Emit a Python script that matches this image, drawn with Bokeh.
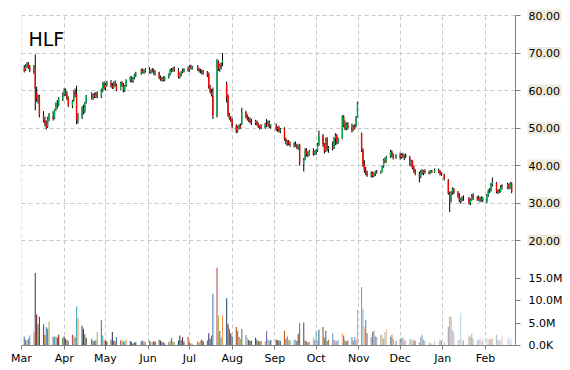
import numpy as np
import pandas as pd
from bokeh.plotting import figure
from bokeh.models import (Range1d, FixedTicker, MonthsTicker, DatetimeTickFormatter,
                          NumeralTickFormatter, Label, ColumnDataSource, Grid, LinearAxis,
                          DatetimeAxis)
from bokeh.embed import file_html
from bokeh.resources import INLINE

ticker_symbol = "HLF"
holidays = ["2014-04-18", "2014-05-26", "2014-07-04", "2014-09-01", "2014-11-27",
            "2014-12-25", "2015-01-01", "2015-01-19", "2015-02-16"]

opens = [
    66.0, 65.5, 66.6, 67.0, 66.3, 65.5, 66.2, 59.5, 58.0, 58.5, 53.5, 52.0, 51.0, 50.4, 52.5, 53.0, 52.6, 55.0, 56.0, 56.0, 57.8,
    58.8, 60.0, 59.0, 58.0, 56.0, 57.5, 59.6, 59.0, 52.0, 53.0, 55.2, 54.5, 57.0, 58.4, 58.0, 58.8, 58.2, 59.2, 58.4, 60.0, 61.6,
    60.8, 61.6, 62.0, 61.2, 60.8, 62.0, 61.4, 60.4, 62.0, 61.3, 60.0, 61.2, 62.8, 63.4, 62.5, 63.4, 64.2, 64.6, 65.4, 65.0, 65.2,
    65.6, 65.0, 65.4, 65.2, 64.6, 64.8, 63.4, 63.0, 63.2, 62.8, 63.6, 64.4, 65.5, 65.2, 65.8, 65.4, 63.6, 64.4, 65.0, 65.2, 65.8,
    65.4, 66.4, 66.0, 66.3, 65.6, 65.2, 65.4, 64.8, 65.0, 64.4, 61.0, 59.6, 58.6, 53.2, 67.6, 65.8, 66.8, 67.5, 61.8, 58.6, 53.4, 52.6,
    52.0, 50.4, 49.2, 50.2, 50.6, 51.0, 54.2, 53.0, 52.4, 52.0, 51.6, 51.4, 51.8, 51.0, 50.2, 50.6, 50.0, 51.0, 50.6, 51.6, 50.4,
    50.6, 49.8, 50.0, 49.2, 49.8, 47.0, 46.0, 46.4, 45.8, 45.4, 45.8, 45.2, 44.8, 45.6, 40.4, 41.6, 44.0, 43.0, 42.8, 43.8, 43.0,
    43.6, 44.0, 45.6, 48.0, 45.6, 43.8, 47.0, 44.4, 44.8, 44.6, 47.2, 48.0, 46.2, 47.2, 53.0, 50.8, 49.8, 51.0, 50.0, 49.4, 50.4, 50.4, 53.0,
    48.4, 44.2, 40.2, 38.8, 38.0, 37.4, 38.0, 37.2, 37.8, 38.4, 38.2, 38.4, 39.8, 41.4, 41.0, 42.4, 43.6, 42.6, 42.0,
    42.8, 42.2, 42.8, 42.4, 42.6, 42.2, 40.4, 41.2, 39.4, 38.4, 37.8, 37.0, 38.4, 38.0, 38.6, 38.2, 38.0, 38.6, 38.2, 38.8, 38.4, 37.6,
    37.6, 36.0, 32.6, 30.6, 32.8, 33.8, 32.8, 31.8, 30.6, 31.0, 31.4, 31.2, 30.0, 30.8, 32.0, 31.2, 31.4, 30.8, 31.2, 30.8,
    30.4, 32.0, 33.2, 33.4, 35.0, 35.4, 33.0, 33.2, 33.0, 34.4, 34.2, 35.0, 34.0, 35.2,
]
highs = [
    66.8, 67.0, 67.5, 67.6, 66.8, 66.8, 69.6, 61.0, 59.0, 58.8, 54.5, 53.0, 52.0, 53.0, 54.0, 54.5, 55.0, 56.8, 57.5, 58.2, 59.5,
    60.6, 60.5, 59.8, 58.4, 57.5, 60.0, 60.5, 61.3, 54.0, 55.8, 56.2, 57.0, 58.8, 59.5, 59.2, 59.4, 59.6, 59.8, 60.5, 62.2, 62.5,
    62.0, 62.6, 62.8, 62.0, 62.4, 62.7, 61.8, 62.3, 62.5, 62.0, 61.5, 63.0, 63.8, 63.8, 63.6, 64.5, 65.0, 65.8, 65.9, 65.6, 66.0,
    66.2, 65.6, 66.0, 65.8, 65.4, 65.0, 64.0, 63.6, 63.8, 63.8, 64.6, 65.8, 66.0, 66.2, 66.4, 66.0, 64.8, 65.2, 65.8, 66.0, 66.4,
    66.8, 66.9, 66.6, 66.8, 66.0, 65.8, 65.6, 65.4, 65.2, 64.8, 61.5, 60.4, 60.8, 68.4, 68.0, 67.2, 67.5, 70.0, 62.4, 59.0, 54.0, 53.2,
    52.6, 51.0, 50.6, 51.0, 51.2, 55.4, 54.6, 53.6, 53.0, 52.8, 52.4, 52.2, 52.0, 51.4, 50.8, 51.0, 51.4, 52.4, 52.0, 52.0, 51.0,
    51.2, 50.4, 50.6, 50.0, 50.2, 47.4, 46.8, 46.8, 46.4, 46.2, 46.4, 45.8, 45.6, 45.8, 42.0, 44.6, 44.6, 43.8, 44.2, 44.6, 44.0,
    44.4, 46.0, 49.3, 48.4, 46.0, 47.4, 47.6, 45.2, 46.4, 47.6, 48.6, 48.4, 47.4, 53.4, 53.4, 52.0, 51.4, 51.6, 51.2, 50.8, 51.0, 53.2, 57.0,
    48.8, 44.6, 41.4, 39.6, 38.6, 38.4, 38.4, 38.2, 38.6, 38.8, 38.6, 40.0, 41.8, 42.2, 42.6, 44.2, 44.0, 43.2, 43.0,
    43.4, 43.2, 43.4, 43.0, 43.2, 42.6, 41.6, 41.4, 40.0, 39.0, 38.4, 38.8, 39.0, 38.8, 39.0, 38.6, 38.8, 38.8, 39.2, 39.2, 38.8, 38.2,
    37.8, 36.4, 33.0, 33.2, 34.2, 34.0, 33.2, 32.6, 31.4, 31.8, 32.0, 31.6, 31.2, 32.4, 32.6, 31.8, 32.0, 31.6, 31.8, 31.6,
    32.4, 33.6, 34.0, 35.4, 36.8, 35.6, 33.6, 33.8, 34.8, 35.0, 35.4, 35.2, 35.6, 35.5,
]
lows = [
    64.8, 65.2, 66.0, 65.8, 64.9, 64.5, 54.7, 57.0, 56.5, 52.8, 51.5, 50.5, 49.6, 50.0, 51.8, 52.0, 52.4, 54.5, 55.2, 55.8, 57.2,
    58.5, 58.6, 57.5, 55.6, 55.3, 57.0, 58.2, 51.0, 51.2, 52.4, 53.6, 54.0, 56.5, 57.6, 57.5, 58.0, 58.0, 57.9, 58.0, 59.5, 60.2,
    60.0, 61.0, 60.8, 60.4, 60.5, 61.0, 59.8, 60.2, 61.0, 59.5, 59.6, 61.0, 62.2, 62.2, 62.0, 63.0, 63.6, 64.2, 64.6, 64.4, 64.8,
    64.6, 64.4, 64.8, 64.2, 64.0, 63.0, 62.6, 62.4, 62.4, 62.5, 63.2, 64.0, 64.8, 65.0, 65.0, 63.2, 63.2, 63.8, 64.6, 64.8, 65.0,
    65.0, 65.6, 65.6, 65.2, 64.8, 64.6, 64.2, 64.3, 63.6, 60.5, 59.2, 58.4, 52.4, 52.8, 65.2, 65.0, 65.6, 66.5, 56.8, 53.0, 52.2, 51.6,
    50.0, 48.6, 48.8, 49.6, 49.8, 50.8, 52.6, 52.0, 51.6, 51.2, 50.8, 50.8, 50.6, 50.0, 49.6, 49.8, 49.8, 50.2, 50.4, 50.0, 49.8,
    49.2, 49.0, 48.8, 48.6, 46.6, 45.6, 45.2, 45.4, 45.0, 44.8, 45.0, 44.4, 44.2, 40.0, 38.4, 41.4, 42.4, 42.2, 42.6, 42.6, 42.8,
    42.8, 43.6, 45.2, 45.0, 43.2, 43.6, 43.8, 43.4, 44.0, 44.4, 45.4, 45.6, 45.8, 47.0, 50.2, 49.4, 49.4, 49.6, 48.8, 49.2, 49.6, 50.2, 52.8,
    43.6, 39.6, 38.0, 37.4, 37.0, 36.8, 36.8, 36.9, 37.2, 37.8, 37.8, 38.2, 39.4, 40.6, 40.8, 42.0, 42.2, 41.6, 41.8,
    41.6, 41.8, 42.0, 41.4, 42.0, 40.0, 39.6, 39.0, 38.0, 37.4, 35.5, 36.6, 37.6, 37.4, 37.8, 37.6, 37.8, 38.0, 38.0, 38.0, 37.4, 37.2,
    36.0, 32.2, 27.6, 30.2, 32.2, 32.4, 31.4, 30.2, 29.8, 30.4, 30.6, 29.6, 29.4, 30.6, 30.8, 30.6, 30.6, 30.2, 30.4, 30.2,
    30.0, 31.6, 32.6, 33.0, 34.4, 32.6, 32.4, 32.6, 32.8, 33.6, 33.8, 33.6, 33.8, 32.6,
]
closes = [
    65.2, 66.6, 67.2, 66.2, 65.4, 66.0, 60.5, 57.8, 58.5, 53.4, 52.0, 51.2, 50.2, 52.5, 53.5, 52.5, 54.8, 56.2, 55.8, 57.8, 58.6,
    60.2, 59.0, 58.0, 56.0, 57.2, 59.6, 58.8, 52.0, 53.0, 55.4, 54.2, 56.8, 58.4, 58.0, 58.8, 58.3, 59.4, 58.4, 60.0, 61.8, 60.6,
    61.6, 62.2, 61.2, 60.8, 62.0, 61.4, 60.2, 62.0, 61.3, 60.0, 61.2, 62.8, 63.5, 62.5, 63.4, 64.2, 64.6, 65.4, 65.0, 65.2, 65.6,
    65.0, 65.4, 65.2, 64.6, 65.0, 63.4, 63.0, 63.2, 62.8, 63.6, 64.4, 65.6, 65.2, 65.8, 65.4, 63.6, 64.4, 65.0, 65.2, 65.8, 65.4,
    66.4, 66.0, 66.3, 65.6, 65.2, 65.4, 64.8, 65.0, 64.2, 61.0, 59.6, 58.8, 53.4, 68.0, 65.8, 66.8, 66.2, 68.0, 58.0, 53.4, 52.6, 52.0,
    50.4, 49.2, 50.2, 50.6, 50.0, 54.2, 53.0, 52.4, 52.0, 51.6, 51.4, 51.8, 51.0, 50.2, 50.6, 50.0, 51.0, 50.6, 51.6, 50.4, 50.6,
    49.8, 50.0, 49.2, 49.6, 47.0, 46.0, 46.4, 45.8, 45.4, 45.8, 45.2, 44.8, 45.4, 40.4, 41.6, 44.0, 43.0, 42.8, 43.8, 43.0, 43.6,
    44.0, 45.6, 48.0, 45.6, 43.8, 47.0, 44.4, 44.8, 44.6, 47.2, 48.0, 46.2, 47.0, 53.0, 50.8, 49.8, 51.0, 50.0, 49.4, 50.4, 49.8, 52.8, 56.6,
    44.2, 40.2, 38.8, 38.0, 37.4, 38.0, 37.2, 37.8, 38.4, 38.2, 38.4, 39.8, 41.4, 41.0, 42.4, 43.6, 42.6, 42.0, 42.8,
    42.2, 42.8, 42.4, 42.6, 42.2, 40.4, 41.2, 39.4, 38.4, 37.8, 37.0, 38.4, 38.0, 38.6, 38.2, 38.0, 38.6, 38.2, 38.8, 38.4, 37.6, 37.7,
    36.4, 32.6, 30.4, 32.8, 33.8, 32.8, 31.8, 30.6, 31.0, 31.4, 31.2, 30.0, 30.8, 32.0, 31.2, 31.4, 30.8, 31.2, 30.8, 31.4,
    32.0, 33.2, 33.4, 35.0, 35.6, 33.0, 33.2, 33.0, 34.4, 34.2, 35.0, 34.0, 35.2, 33.0,
]
volumes_m = [
    2.0, 1.3, 1.1, 1.5, 2.2, 3.1, 16.1, 6.9, 4.7, 6.4, 4.7, 2.4, 4.1, 3.7, 5.3, 2.0, 1.9, 2.1, 1.7, 2.4, 1.7,
    2.0, 1.5, 1.2, 1.0, 2.4, 2.2, 1.8, 8.7, 6.1, 4.4, 3.7, 2.5, 1.7, 1.5, 1.0, 1.0, 1.2, 3.0, 5.6, 2.2, 1.3,
    1.1, 0.9, 1.3, 3.0, 1.1, 1.0, 1.9, 1.1, 1.3, 0.9, 1.0, 1.3, 1.0, 0.7, 0.4, 0.6, 0.8, 1.0, 1.1, 0.8, 0.9,
    1.1, 0.8, 0.7, 0.9, 0.9, 1.3, 1.1, 0.8, 0.7, 0.5, 0.7, 1.1, 1.7, 0.9, 0.8, 1.1, 2.2, 1.3, 1.9, 0.9, 1.9,
    0.7, 0.5, 0.4, 0.9, 0.7, 1.1, 1.3, 0.9, 1.1, 2.7, 1.5, 2.2, 11.5, 17.3, 6.7, 3.2, 1.7, 6.7, 10.5, 4.7, 3.7, 2.7,
    2.0, 4.1, 3.3, 1.9, 1.5, 3.7, 2.4, 1.7, 1.2, 1.0, 1.1, 1.7, 1.3, 1.0, 0.9, 1.0, 1.0, 3.2, 1.4, 1.0, 1.2,
    1.3, 1.2, 1.1, 1.0, 3.3, 1.5, 2.0, 1.3, 1.1, 1.3, 1.3, 1.0, 2.6, 5.0, 5.1, 1.1, 0.9, 0.7, 0.8, 1.7, 1.1,
    3.3, 1.1, 3.5, 4.1, 1.7, 3.3, 1.0, 1.3, 2.7, 1.3, 1.1, 1.0, 1.3, 2.7, 2.2, 1.1, 0.9, 1.1, 1.9, 1.1, 1.9, 1.3, 8.1,
    13.0, 8.1, 4.1, 5.7, 2.7, 1.9, 3.0, 3.3, 2.0, 1.9, 2.4, 2.2, 1.5, 3.0, 3.7, 1.9, 2.4, 1.5, 1.0,
    1.5, 1.6, 1.9, 1.2, 1.0, 1.3, 1.5, 1.1, 1.3, 1.0, 0.7, 1.9, 2.4, 1.3, 1.1, 0.5, 0.7, 0.4, 1.1, 0.7, 1.3, 1.0,
    0.7, 4.1, 6.4, 6.4, 3.5, 3.0, 1.1, 1.3, 7.2, 1.3, 1.1, 2.2, 1.9, 2.6, 1.5, 1.1, 1.3, 1.5, 1.0, 1.4,
    1.7, 1.5, 1.3, 1.5, 1.6, 2.4, 1.3, 1.1, 1.3, 2.0, 1.4, 2.0, 1.2, 1.7,
]
price_ticks = [20, 30, 40, 50, 60, 70, 80]
volume_ticks = [0, 5, 10, 15]
volume_tick_labels = ["0.0K", "5.0M", "10.0M", "15.0M"]
volume_palette = ["#4f81bd", "#c0504d", "#9bbb59", "#8064a2", "#4bacc6", "#f79646",
                  "#2c4d75", "#772c2a", "#5f7530", "#4d3b62", "#276a7c", "#b65708"]

dates = pd.bdate_range("2014-03-03", "2015-02-20", freq="C", holidays=holidays)
n = len(dates)
assert n == len(opens) == len(highs) == len(lows) == len(closes) == len(volumes_m)

o = np.array(opens)
c = np.array(closes)
fade_start = 120
valpha = np.ones(n)
valpha[fade_start:] = np.linspace(1.0, 0.3, n - fade_start)
src = ColumnDataSource(dict(
    date=dates,
    high=np.array(highs), low=np.array(lows),
    top=np.maximum(o, c), bottom=np.minimum(o, c),
    color=np.where(c >= o, "#00b050", "#ff0000"),
    vol=np.array(volumes_m),
    vcolor=[volume_palette[i % len(volume_palette)] for i in range(n)],
    valpha=valpha,
))

# ---- geometry: one frame covering the whole page ----
W, H = 570, 370
LEFT = 21                         # px before the first day of the time axis
DATA_W = 494                      # width of the dated span (px)
BASE_PX = 345                     # pixel row of the time axis / volume zero
PX_PER_UNIT = 3.75                # price: 10 units = 37.5 px
PRICE_TOP = 80 + 15 / PX_PER_UNIT
PRICE_BOT = PRICE_TOP - H / PX_PER_UNIT
PRICE_AT_BASE = PRICE_TOP - BASE_PX / PX_PER_UNIT
VOL_PX = 22.5 / 5                 # volume: 5M = 22.5 px
VOL_TOP = BASE_PX / VOL_PX
VOL_BOT = -(H - BASE_PX) / VOL_PX

DAY = 86400000
ms_start = pd.Timestamp("2014-03-01").timestamp() * 1000
ms_end = pd.Timestamp("2015-02-22 19:00").timestamp() * 1000
ms_per_px = (ms_end - ms_start) / DATA_W
ms_frame_start = ms_start - LEFT * ms_per_px
ms_frame_end = ms_frame_start + W * ms_per_px

GRID_COLOR = "#c8c8c8"
AXIS_COLOR = "#808080"
FONT = "DejaVu Sans"

p = figure(width=W, height=H, x_axis_location=None, y_axis_location=None,
           x_range=Range1d(ms_frame_start, ms_frame_end), y_range=Range1d(PRICE_BOT, PRICE_TOP),
           output_backend="svg", toolbar_location=None,
           min_border_left=0, min_border_right=0, min_border_top=0, min_border_bottom=0)
p.outline_line_color = None
p.extra_y_ranges = {"vol": Range1d(VOL_BOT, VOL_TOP)}
# drop the automatic grids (their axes are not shown)
p.center = [r for r in p.center if not isinstance(r, Grid)]


def style_axis(ax, tick_out=5, standoff=8):
    ax.axis_line_color = AXIS_COLOR
    ax.major_tick_line_color = AXIS_COLOR
    ax.major_tick_out = tick_out
    ax.major_tick_in = 0
    ax.minor_tick_line_color = None
    ax.major_label_text_font = FONT
    ax.major_label_text_font_size = "11px"
    ax.major_label_text_color = "#000000"
    ax.major_label_standoff = standoff


month_ticker = MonthsTicker(months=list(range(12)))

# grids
p.add_layout(Grid(dimension=0, ticker=month_ticker, bounds=(ms_start, ms_end),
                  grid_line_color=GRID_COLOR, grid_line_dash="4 3"))
p.add_layout(Grid(dimension=1, ticker=FixedTicker(ticks=price_ticks),
                  grid_line_color=GRID_COLOR, grid_line_dash="4 3"))

# white masks: keep grid lines inside the dated area, below the 80 line, above the time axis
p.quad(left=[ms_frame_start, ms_end], right=[ms_start, ms_frame_end],
       bottom=PRICE_BOT, top=PRICE_TOP, fill_color="white", line_color=None)
p.quad(left=ms_start, right=ms_end, bottom=80 + 0.6 / PX_PER_UNIT, top=PRICE_TOP,
       fill_color="white", line_color=None)
p.quad(left=ms_start, right=ms_end, bottom=PRICE_BOT, top=PRICE_AT_BASE,
       fill_color="white", line_color=None)

# beige boxes behind the price labels
lab_src = ColumnDataSource(dict(y=price_ticks))
p.rect(x=ms_end + 29 * ms_per_px, y="y", width=34, height=12, width_units="screen",
       height_units="screen", fill_color="#efebdc", line_color=None, source=lab_src)

# candles
p.segment(x0="date", y0="low", x1="date", y1="high", line_color="#000000", line_width=1, source=src)
p.vbar(x="date", width=1.0 * DAY, top="top", bottom="bottom", fill_color="color",
       line_color=None, source=src)

# volume
p.vbar(x="date", width=0.8 * DAY, top="vol", bottom=0, fill_color="vcolor",
       fill_alpha="valpha", line_color=None, source=src, y_range_name="vol")

# time axis at the volume baseline
time_axis = DatetimeAxis(fixed_location=PRICE_AT_BASE, ticker=month_ticker,
                         formatter=DatetimeTickFormatter(days="%b", months="%b", years="%b"),
                         bounds=(ms_start, ms_end))
style_axis(time_axis, tick_out=4, standoff=2)
p.add_layout(time_axis, "below")

# right-hand axes drawn at the end of the dated span
price_axis = LinearAxis(fixed_location=ms_end, ticker=FixedTicker(ticks=price_ticks),
                        formatter=NumeralTickFormatter(format="0.00"),
                        bounds=(PRICE_AT_BASE, 80))
style_axis(price_axis)
p.add_layout(price_axis, "right")

vol_axis = LinearAxis(fixed_location=ms_end, y_range_name="vol",
                      ticker=FixedTicker(ticks=volume_ticks),
                      major_label_overrides={t: lab for t, lab in zip(volume_ticks, volume_tick_labels)})
style_axis(vol_axis)
vol_axis.axis_line_color = None
p.add_layout(vol_axis, "right")

p.add_layout(Label(x=pd.Timestamp("2014-03-06 02:00").timestamp() * 1000, y=73.7,
                   text=ticker_symbol, text_font=FONT, text_font_size="19px",
                   text_color="#000000", text_baseline="alphabetic"))

open("out.html", "w").write(file_html(p, INLINE))
